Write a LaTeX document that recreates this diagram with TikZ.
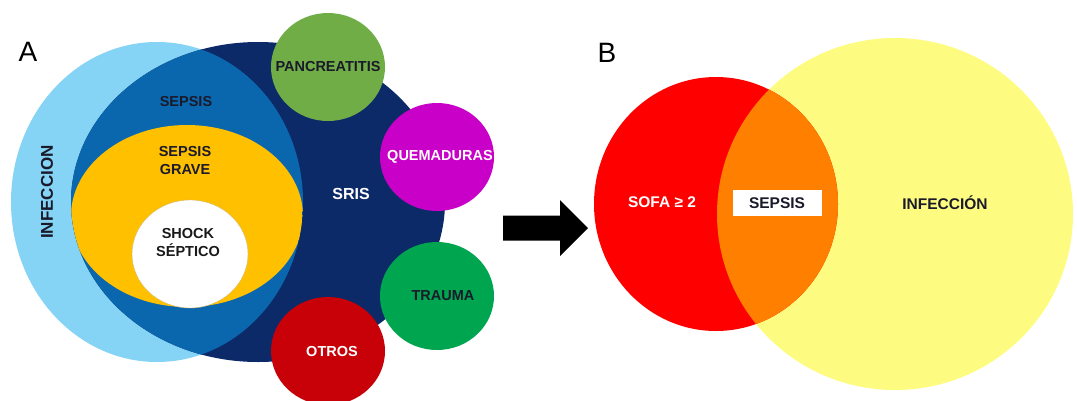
\documentclass[tikz,border=0pt]{standalone}
\usepackage{fontspec}
\setmainfont{Liberation Sans}
\usepackage{xcolor}
\usetikzlibrary{shapes.geometric}

\definecolor{infblue}{HTML}{85D3F5}
\definecolor{srisblue}{HTML}{0C2A68}
\definecolor{sepblue}{HTML}{0A67AE}
\definecolor{graveyellow}{HTML}{FFC000}
\definecolor{pancgreen}{HTML}{70AD47}
\definecolor{quemmag}{HTML}{C800C8}
\definecolor{traugreen}{HTML}{00A550}
\definecolor{otrosred}{HTML}{C80008}
\definecolor{sofared}{HTML}{FF0000}
\definecolor{sepsorange}{HTML}{FF8000}
\definecolor{infyellow}{HTML}{FDFC80}
\definecolor{darktext}{HTML}{1A1A2A}

\begin{document}
\begin{tikzpicture}[
    x=1pt, y=-1pt,
    lbl/.style={
      font=\bfseries\fontsize{14.5}{18}\selectfont,
      align=center,
      inner sep=0pt,
      text=darktext
    },
    bubble/.style={
      ellipse,
      minimum width=114pt,
      minimum height=108pt,
      inner sep=0pt
    },
    panel/.style={font=\fontsize{28}{30}\selectfont, inner sep=0pt}
  ]
    \useasboundingbox (0,0) rectangle (1077,400);

    % A: infeccion, sris and the sepsis lens
    \fill[infblue] (157,202) ellipse [x radius=146pt, y radius=160pt];
    \fill[srisblue] (258,202) ellipse [x radius=187pt, y radius=160pt];
    \begin{scope}
      \clip (157,202) ellipse [x radius=146pt, y radius=160pt];
      \fill[sepblue] (258,202) ellipse [x radius=187pt, y radius=160pt];
      \clip (258,202) ellipse [x radius=187pt, y radius=160pt];
      \fill[graveyellow] (187,216) ellipse [x radius=116pt, y radius=91pt];
    \end{scope}
    \node[bubble, fill=white, draw=graveyellow!70!black!60, line width=0.4pt,
      minimum width=116pt] (shock) at (190,254) {};

    \node[panel] (labA) at (28,52) {A};
    \node[lbl, rotate=90, font=\bfseries\fontsize{17}{20}\selectfont] (infec) at (47,192) {INFECCION};
    \node[lbl] (sepsis) at (186,102) {SEPSIS};
    \node[lbl] (grave) at (185,161) {SEPSIS\\GRAVE};
    \node[lbl, text=black!90] (shocktxt) at (188,243) {SHOCK\\SÉPTICO};
    \node[lbl, text=white, font=\bfseries\fontsize{16}{19}\selectfont] (sris) at (351,194) {SRIS};

    % other causes of sris
    \node[bubble, fill=pancgreen] (panc) at (328,67) {};
    \node[bubble, fill=quemmag] (quem) at (437,157) {};
    \node[bubble, fill=traugreen] (trau) at (437,296) {};
    \node[bubble, fill=otrosred] (otros) at (328,351) {};
    \node[lbl] (pancTxt) at (328,67) {PANCREATITIS};
    \node[lbl, text=white] (quemTxt) at (440,157) {QUEMADURAS};
    \node[lbl] (trauTxt) at (443,296) {TRAUMA};
    \node[lbl, text=white] (otrosTxt) at (332,352) {OTROS};

    % arrow from A to B
    \fill[black] (503,215.5) -- (560,215.5) -- (560,200) -- (588,228)
      -- (560,256) -- (560,240.5) -- (503,240.5) -- cycle;

    % B: sepsis-3
    \fill[infyellow] (895,214) ellipse [x radius=178pt, y radius=176pt];
    \fill[sofared] (716,204) ellipse [x radius=122pt, y radius=127pt];
    \begin{scope}
      \clip (895,214) ellipse [x radius=178pt, y radius=176pt];
      \fill[sepsorange] (716,204) ellipse [x radius=122pt, y radius=127pt];
    \end{scope}

    \node[panel] (labB) at (607,53) {B};
    \node[lbl, text=white, font=\bfseries\fontsize{15.5}{18}\selectfont] (sofa) at (662,202) {SOFA ≥ 2};
    \node[lbl, fill=white, minimum width=89pt, minimum height=26pt,
      font=\bfseries\fontsize{15.5}{18}\selectfont] (sepsisB) at (777,203) {SEPSIS};
    \node[lbl, font=\bfseries\fontsize{15.5}{18}\selectfont] (infecB) at (945,203) {INFECCIÓN};
  \end{tikzpicture}
\end{document}
